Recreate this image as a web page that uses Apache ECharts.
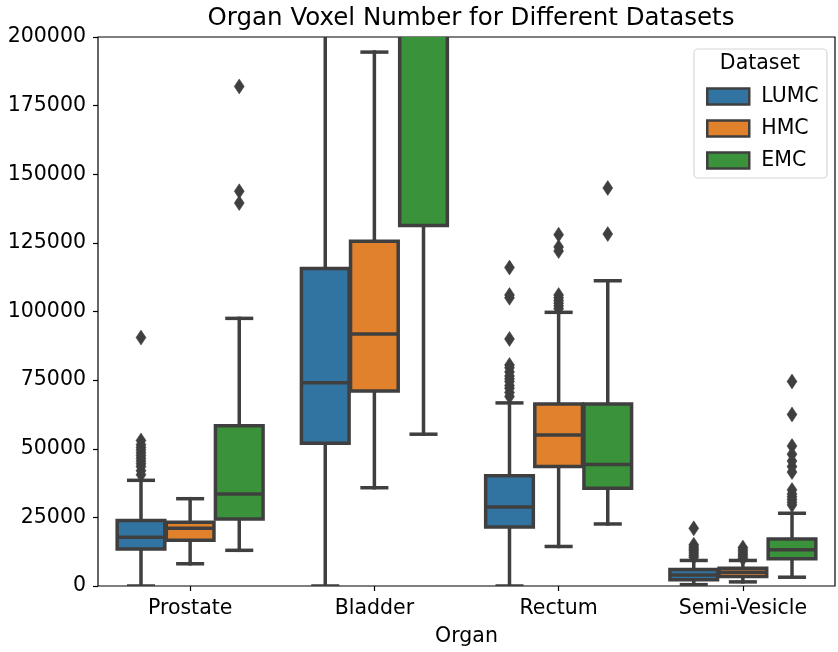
<!DOCTYPE html>
<html>
<head>
<meta charset="utf-8">
<script src="https://cdn.jsdelivr.net/npm/echarts@6/dist/echarts.min.js"></script>
<style>html,body{margin:0;padding:0;background:#fff;}#chart{width:838px;height:652px;}</style>
</head>
<body>
<div id="chart"></div>
<script>
// ---- Data ----
const categories = ['Prostate', 'Bladder', 'Rectum', 'Semi-Vesicle'];
const datasets = ['LUMC', 'HMC', 'EMC'];
const yTicks = [0, 25000, 50000, 75000, 100000, 125000, 150000, 175000, 200000];

// Box stats per organ: [lower whisker, Q1, median, Q3, upper whisker]
const lumcBox = [
  [0, 13500, 17800, 23900, 38500],
  [0, 52000, 74000, 115700, 260000],
  [0, 21500, 28800, 40200, 66700],
  [500, 2300, 4000, 6000, 9300]
];
const hmcBox = [
  [8100, 16700, 21000, 23200, 31800],
  [35800, 71000, 91800, 125600, 194500],
  [14400, 43500, 55000, 66300, 99700],
  [1500, 3500, 5000, 6500, 9300]
];
const emcBox = [
  [13000, 24400, 33500, 58400, 97500],
  [55300, 131300, 215000, 260000, 330000],
  [22600, 35600, 44300, 66300, 111200],
  [3200, 9900, 13200, 17100, 26500]
];

// Outliers per organ
const lumcOut = [
  [90500, 53000, 51500, 50500, 49500, 48500, 47500, 46500, 45500, 44500, 43500, 42000, 40500],
  [],
  [116000, 106000, 105000, 90000, 80500, 79500, 78000, 76500, 75500, 74500, 73000, 72000, 70500, 69000],
  [21000, 15000, 14200, 13500, 12800, 12000, 11200, 10500]
];
const hmcOut = [
  [],
  [],
  [128000, 123500, 122000, 106000, 105000, 104000, 103000, 102000, 101000],
  [14000, 13200, 12400, 11600, 10800, 10000]
];
const emcOut = [
  [182000, 143800, 139500],
  [],
  [145000, 128200],
  [74500, 62500, 51000, 48000, 45500, 43500, 41500, 35000, 33500, 32500, 31500, 30500, 29500]
];

const colors = ['#3274a1', '#e1812c', '#3a923a'];
const edge = '#3f3f3f';

// ---- Build ----
const boxSets = [lumcBox, hmcBox, emcBox];
const outSets = [lumcOut, hmcOut, emcOut];

function boxRender(hue) {
  return function (params, api) {
    const cat = api.value(0);
    const cx0 = api.coord([cat, 0])[0];
    const band = api.size([1, 0])[0];
    const w = band * 0.8 / 3;
    const cx = cx0 + (hue - 1) * w;
    const bw = w * 0.97;
    const yLo = api.coord([cat, api.value(1)])[1];
    const yQ1 = api.coord([cat, api.value(2)])[1];
    const yMed = api.coord([cat, api.value(3)])[1];
    const yQ3 = api.coord([cat, api.value(4)])[1];
    const yHi = api.coord([cat, api.value(5)])[1];
    const ls = { stroke: edge, lineWidth: 3.5, lineCap: 'square' };
    const cw = w * 0.25;
    return {
      type: 'group',
      children: [
        { type: 'line', shape: { x1: cx, y1: yQ1, x2: cx, y2: yLo }, style: ls },
        { type: 'line', shape: { x1: cx, y1: yQ3, x2: cx, y2: yHi }, style: ls },
        { type: 'line', shape: { x1: cx - cw, y1: yLo, x2: cx + cw, y2: yLo }, style: ls },
        { type: 'line', shape: { x1: cx - cw, y1: yHi, x2: cx + cw, y2: yHi }, style: ls },
        { type: 'rect', shape: { x: cx - bw / 2, y: yQ3, width: bw, height: yQ1 - yQ3 },
          style: { fill: colors[hue], stroke: edge, lineWidth: 3.5 } },
        { type: 'line', shape: { x1: cx - bw / 2, y1: yMed, x2: cx + bw / 2, y2: yMed },
          style: { stroke: edge, lineWidth: 3.5 } }
      ]
    };
  };
}

function outRender(hue) {
  return function (params, api) {
    const cat = api.value(0);
    const p = api.coord([cat, api.value(1)]);
    const band = api.size([1, 0])[0];
    const w = band * 0.8 / 3;
    const cx = p[0] + (hue - 1) * w;
    const cy = p[1];
    const hw = 5, hh = 7.5;
    return {
      type: 'polygon',
      shape: { points: [[cx, cy - hh], [cx + hw, cy], [cx, cy + hh], [cx - hw, cy]] },
      style: { fill: edge, stroke: edge, lineWidth: 0.5 }
    };
  };
}

const series = [];
datasets.forEach(function (name, h) {
  series.push({
    type: 'custom',
    name: name,
    clip: true,
    itemStyle: { color: colors[h] },
    renderItem: boxRender(h),
    encode: { x: 0, y: [1, 2, 3, 4, 5] },
    data: boxSets[h].map(function (b, i) { return [i].concat(b); }),
    z: 2
  });
});
datasets.forEach(function (name, h) {
  const pts = [];
  outSets[h].forEach(function (arr, i) { arr.forEach(function (v) { pts.push([i, v]); }); });
  series.push({
    type: 'custom',
    clip: true,
    renderItem: outRender(h),
    encode: { x: 0, y: 1 },
    data: pts,
    z: 3
  });
});

const chart = echarts.init(document.getElementById('chart'), null, { renderer: 'canvas' });
const font = 'DejaVu Sans';
const fs = 20.5;
chart.setOption({
  animation: false,
  color: colors,
  textStyle: { fontFamily: font },
  title: {
    text: 'Organ Voxel Number for Different Datasets',
    left: 466, top: 1, textAlign: 'center',
    textStyle: { fontFamily: font, fontSize: 24.5, fontWeight: 'normal', color: '#000' }
  },
  grid: { left: 98, top: 37, width: 737, height: 551, show: true, borderColor: '#000', borderWidth: 1.2, backgroundColor: 'transparent' },
  xAxis: {
    type: 'category',
    data: categories,
    name: 'Organ',
    nameLocation: 'middle',
    nameGap: 40,
    nameTextStyle: { fontFamily: font, fontSize: fs, color: '#000' },
    axisLine: { show: false },
    axisTick: { show: true, alignWithLabel: true, length: 5, lineStyle: { color: '#000', width: 1.2 } },
    axisLabel: { fontFamily: font, fontSize: fs, color: '#000', margin: 12 },
    splitLine: { show: false }
  },
  yAxis: {
    type: 'value',
    min: yTicks[0], max: yTicks[yTicks.length - 1], interval: 25000,
    axisLine: { show: false },
    axisTick: { show: true, length: 5, lineStyle: { color: '#000', width: 1.2 } },
    axisLabel: { fontFamily: font, fontSize: fs, color: '#000', margin: 12, formatter: function (v) { return String(v); } },
    splitLine: { show: false }
  },
  legend: {
    orient: 'vertical',
    left: 701, top: 81,
    data: datasets,
    icon: 'rect',
    itemWidth: 42, itemHeight: 16, itemGap: 11,
    itemStyle: { borderColor: edge, borderWidth: 2.5 },
    textStyle: { fontFamily: font, fontSize: fs, color: '#000', lineHeight: 16, padding: [0, 0, 0, 7] },
    selectedMode: false,
    z: 6
  },
  graphic: [
    { type: 'rect', z: 5, shape: { x: 694, y: 49, width: 133, height: 129, r: 4 },
      style: { fill: 'rgba(255,255,255,0.8)', stroke: '#d6d6d6', lineWidth: 1.2 } },
    { type: 'text', z: 6, x: 760, y: 64,
      style: { text: 'Dataset', fontFamily: font, fontSize: fs, fill: '#000', textAlign: 'center', textVerticalAlign: 'middle' } }
  ],
  series: series
});
</script>
</body>
</html>
